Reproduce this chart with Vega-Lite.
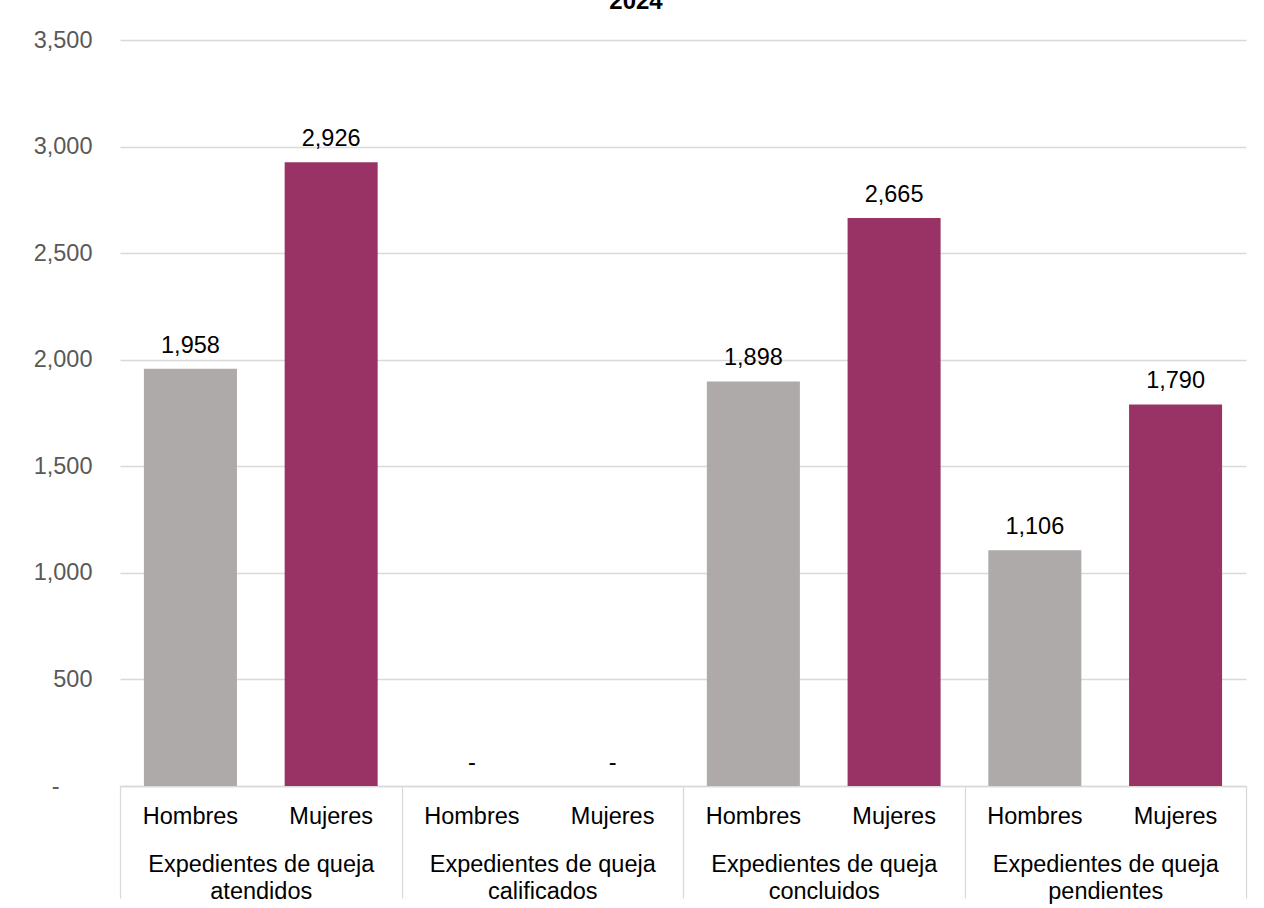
{
  "$schema": "https://vega.github.io/schema/vega-lite/v6.json",
  "autosize": "none",
  "width": 1126,
  "height": 746,
  "padding": {"left": 120, "top": 40, "right": 18, "bottom": 122},
  "background": "white",
  "title": {"text": "2024", "fontSize": 24, "fontWeight": "bold", "font": "Liberation Sans", "color": "#000000", "baseline": "alphabetic", "offset": -5, "anchor": "middle", "dx": -47},
  "data": {
    "values": [
      {"categoria": "Expedientes de queja atendidos", "sexo": "Hombres", "valor": 1958},
      {"categoria": "Expedientes de queja atendidos", "sexo": "Mujeres", "valor": 2926},
      {"categoria": "Expedientes de queja calificados", "sexo": "Hombres", "valor": 0},
      {"categoria": "Expedientes de queja calificados", "sexo": "Mujeres", "valor": 0},
      {"categoria": "Expedientes de queja concluidos", "sexo": "Hombres", "valor": 1898},
      {"categoria": "Expedientes de queja concluidos", "sexo": "Mujeres", "valor": 2665},
      {"categoria": "Expedientes de queja pendientes", "sexo": "Hombres", "valor": 1106},
      {"categoria": "Expedientes de queja pendientes", "sexo": "Mujeres", "valor": 1790}
    ]
  },
  "transform": [
    {"calculate": "datum.categoria + '|' + datum.sexo", "as": "clave"},
    {"calculate": "datum.valor == 0 ? '-' : format(datum.valor, ',')", "as": "etiqueta"}
  ],
  "layer": [
    {
      "encoding": {
        "x": {
          "field": "clave", "type": "nominal", "sort": null,
          "scale": {"paddingInner": 0.339, "paddingOuter": 0.17},
          "axis": {
            "orient": "bottom",
            "title": null, "labelAngle": 0, "labelExpr": "split(datum.label, '|')[1]",
            "labelFontSize": 23.5, "labelColor": "#000000", "labelPadding": 18, "labelBaseline": "top",
            "ticks": false, "domain": true, "domainColor": "#d9d9d9", "domainWidth": 1.3, "grid": false, "labelLimit": 300
          }
        },
        "y": {
          "field": "valor", "type": "quantitative",
          "scale": {"domain": [0, 3500], "nice": false},
          "axis": {
            "title": null, "values": [0, 500, 1000, 1500, 2000, 2500, 3000, 3500],
            "labelExpr": "datum.value == 0 ? '-' : format(datum.value, ',')",
            "labelFontSize": 23.5, "labelColor": "#595959",
            "labelPadding": {"condition": {"test": "datum.value == 0", "value": 61}, "value": 28},
            "ticks": false, "domain": false, "grid": true, "gridColor": "#d9d9d9", "gridWidth": 1.3
          }
        }
      },
      "layer": [
        {
          "mark": {"type": "bar"},
          "encoding": {
            "color": {"field": "sexo", "type": "nominal", "scale": {"domain": ["Hombres", "Mujeres"], "range": ["#AEAAAA", "#993366"]}, "legend": null}
          }
        },
        {
          "mark": {"type": "text", "baseline": "alphabetic", "dy": -16, "fontSize": 23.5, "color": "#000000"},
          "encoding": {"text": {"field": "etiqueta", "type": "nominal"}}
        }
      ]
    },
    {
      "mark": {"type": "point", "opacity": 0},
      "encoding": {
        "x": {
          "field": "categoria", "type": "nominal", "sort": null,
          "scale": {"paddingInner": 0, "paddingOuter": 0},
          "axis": {
            "orient": "bottom",
            "title": null, "labelAngle": 0,
            "labelExpr": "test(/^Expedientes de queja /, '' + datum.label) ? ['Expedientes de queja', replace('' + datum.label, 'Expedientes de queja ', '')] : ''",
            "labelFontSize": 23.5, "labelColor": "#000000", "labelLineHeight": 26.6, "labelBaseline": "top",
            "labelPadding": -45.5, "labelLimit": 400, "labelOverlap": false,
            "ticks": true, "tickBand": "extent", "tickSize": 112, "tickColor": "#d9d9d9", "tickWidth": 1.3,
            "domain": false, "grid": false
          }
        }
      }
    }
  ],
  "resolve": {"scale": {"x": "independent"}, "axis": {"x": "independent"}},
  "config": {
    "font": "Liberation Sans",
    "view": {"stroke": null},
    "axis": {"labelFont": "Liberation Sans"}
  }
}
